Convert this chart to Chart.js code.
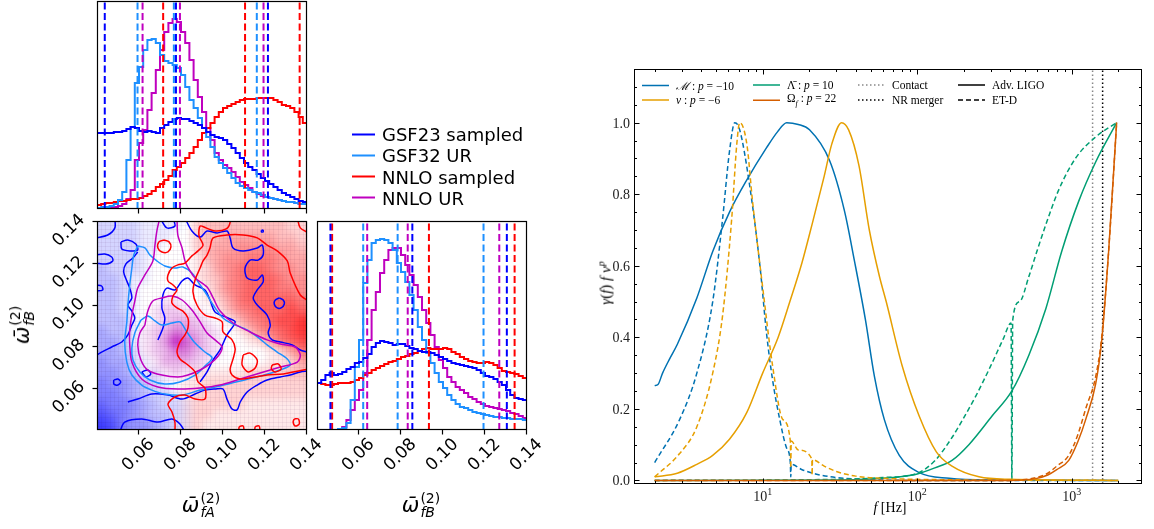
<!DOCTYPE html>
<html>
<head>
<meta charset="utf-8">
<title>corner plot and weight functions</title>
<script src="https://cdn.jsdelivr.net/npm/chart.js@4.4.1/dist/chart.umd.min.js"></script>
<style>
  body { margin: 0; background: #fff; }
  #page { position: relative; width: 1154px; height: 529px; overflow: hidden; }
  #page canvas { position: absolute; left: 0; top: 0; }
  .txt { position: absolute; white-space: nowrap; color: #000; }
  .sans { font-family: "DejaVu Sans", sans-serif; }
  .serif { font-family: "Liberation Serif", "DejaVu Serif", serif; }
  .omega { display: flex; align-items: center; font-size: 21px; transform: translate(-50%, -50%); }
  .omega.rot { transform: translate(-50%, -50%) rotate(-90deg); }
  .omega .w { font-style: italic; }
  .omega .ss { display: inline-flex; flex-direction: column; font-size: 14px; line-height: 14px; margin-left: 1px; }
  .omega .ss i { font-style: italic; }
  .leg { display: flex; align-items: center; transform: translateY(-50%); }
  .leg svg { margin-right: 7px; }
  .lsans { font-size: 18px; }
  .lserif { font-size: 11.5px; }
</style>
</head>
<body>
<div id="page">
  <canvas id="topHist" width="1154" height="529"></canvas>
  <canvas id="joint" width="1154" height="529"></canvas>
  <canvas id="sideHist" width="1154" height="529"></canvas>
  <canvas id="weights" width="1154" height="529"></canvas>

  <div class="txt sans omega" style="left:201px; top:505px;"><span class="w">ω̄</span><span class="ss"><span>(2)</span><i>fA</i></span></div>
  <div class="txt sans omega" style="left:421px; top:505px;"><span class="w">ω̄</span><span class="ss"><span>(2)</span><i>fB</i></span></div>
  <div class="txt sans omega rot" style="left:22px; top:325px;"><span class="w">ω̄</span><span class="ss"><span>(2)</span><i>fB</i></span></div>

  <div class="txt serif" style="left:605px; top:283px; font-size:15px; transform:translate(-50%,-50%) rotate(-90deg);"><i>γ</i>(<i>f</i>) <i>f v</i><sup style="font-size:10px"><i>p</i></sup></div>
  <div class="txt serif" style="left:890px; top:508px; font-size:14px; transform:translate(-50%,-50%);"><i>f</i> [Hz]</div>
</div>

<script>
// ---------------- corner plot (left) ----------------
const binStart = 0.04, binWidth = 0.002;   // 50 bins on [0.04, 0.14]

const seriesNames  = ['GSF23 sampled', 'GSF32 UR', 'NNLO sampled', 'NNLO UR'];
const seriesColors = ['#0000ff', '#1e90ff', '#ff0000', '#bf00bf'];

// marginal of omega_fA (arbitrary density units)
const histA_gsf23   = [76,76,76,76,77,77,78,80,82,81,78,77,78,77,76,81,84,87,90,91,90,90,88,86,84,81,77,74,72,71,69,65,61,56,51,46,42,39,35,31,28,25,22,19,16,14,12,10,8,7];
const histA_gsf32ur = [1,2,2,3,5,9,17,49,82,126,142,159,169,170,166,154,148,146,144,141,134,122,109,101,91,81,72,62,52,46,41,36,31,26,23,21,19,17,16,14,12,11,10,9,8,7,7,6,5,5];
const histA_nnlo    = [4,5,6,6,7,8,8,9,10,10,11,13,15,18,22,25,29,33,39,42,46,51,56,62,69,76,81,86,92,97,101,103,105,107,109,110,110,110,111,111,111,111,109,107,104,103,101,97,92,86];
const histA_nnloUR  = [0,0,0,1,2,3,5,10,19,49,66,79,99,116,139,159,177,186,190,187,177,166,149,129,112,97,81,69,56,49,44,41,37,32,27,24,21,17,15,13,12,11,10,9,8,7,7,6,5,5];

// marginal of omega_fB
const histB_gsf23   = [47,50,55,57,55,56,58,61,63,67,68,72,76,83,87,89,88,87,85,86,86,84,82,81,79,78,78,77,75,73,71,69,67,66,65,64,63,62,60,57,54,53,51,48,45,40,35,32,31,30];
const histB_gsf32ur = [0,0,0,0,0,1,2,7,30,63,90,147,170,187,190,191,190,187,180,167,158,148,135,120,103,90,77,67,57,48,42,35,30,26,23,22,20,18,17,16,15,14,13,13,12,12,11,11,11,10];
const histB_nnlo    = [47,46,45,45,46,47,47,47,48,50,52,55,57,60,62,64,66,68,69,71,73,74,76,77,79,81,82,81,81,81,82,81,78,76,73,71,69,68,67,67,68,67,65,62,59,58,57,56,54,52];
const histB_nnloUR  = [0,0,0,0,0,1,3,10,20,30,40,57,90,120,138,157,170,180,182,182,175,165,155,145,133,120,107,95,83,70,62,53,48,43,40,37,33,31,28,26,24,23,22,21,20,19,17,16,14,12];

// 5%, 50%, 95% quantiles (dashed lines)
const qA_gsf23 = [0.0437, 0.0776, 0.1214], qA_gsf32ur = [0.0593, 0.0766, 0.1161];
const qA_nnlo  = [0.0715, 0.1105, 0.1365], qA_nnloUR  = [0.0617, 0.0795, 0.1193];
const qB_gsf23 = [0.0464, 0.0854, 0.1304], qB_gsf32ur = [0.0620, 0.0784, 0.1193];
const qB_nnlo  = [0.0472, 0.0933, 0.1341], qB_nnloUR  = [0.0639, 0.0832, 0.1268];

const cornerTicks  = [0.06, 0.08, 0.10, 0.12, 0.14];
const cornerLabels = ['0.06', '0.08', '0.10', '0.12', '0.14'];

// 2D density grid: 20x20 cells of 0.005, rows from top (0.14) to bottom (0.04); 0..9
const cellLeft = 0.04, cellTop = 0.14, cellSize = 0.005;
const blueDens = [
  [2,2,2,2,1,1,1,1,0,0,0,0,0,0,0,0,0,0,0,0],
  [2,2,2,2,1,1,1,0,0,0,0,0,0,0,0,0,0,0,0,0],
  [2,2,2,2,1,1,0,0,0,0,0,0,0,0,0,0,0,0,0,0],
  [2,2,2,2,1,0,0,0,0,0,0,0,0,0,0,0,0,0,0,0],
  [3,2,2,2,1,0,0,0,0,0,0,0,0,0,0,0,0,0,0,0],
  [3,3,2,1,1,0,0,0,0,0,0,0,0,0,0,0,0,0,0,0],
  [3,3,2,1,0,0,0,0,0,0,0,0,0,0,0,0,0,0,0,0],
  [3,3,2,1,0,0,0,0,0,0,0,0,0,0,0,0,0,0,0,0],
  [3,3,2,1,0,0,0,0,0,0,0,0,0,0,0,0,0,0,0,0],
  [3,3,3,1,0,0,0,0,0,0,0,0,0,0,0,0,0,0,0,0],
  [4,3,3,1,0,0,0,0,0,0,0,0,0,0,0,0,0,0,0,0],
  [4,4,3,1,0,0,0,0,0,0,0,0,0,0,0,0,0,0,0,0],
  [4,4,3,2,0,0,0,0,0,0,0,0,0,0,0,0,0,0,0,0],
  [5,4,4,2,1,0,0,0,0,0,0,0,0,0,0,0,0,0,0,0],
  [5,5,4,3,1,1,0,0,0,0,0,0,0,0,0,0,0,0,0,0],
  [6,5,5,4,3,2,1,0,0,0,0,0,0,0,0,0,0,0,0,0],
  [6,6,5,4,3,2,2,1,0,0,0,0,0,0,0,0,0,0,0,0],
  [7,6,6,5,4,3,2,2,1,0,0,0,0,0,0,0,0,0,0,0],
  [8,7,6,5,4,3,3,2,1,0,0,0,0,0,0,0,0,0,0,0],
  [9,8,6,5,5,4,3,2,1,0,0,0,0,0,0,0,0,0,0,0]
];
const redDens = [
  [0,0,0,0,0,0,0,0,0,2,3,3,3,3,3,3,3,3,2,2],
  [0,0,0,0,0,0,0,0,0,2,3,3,4,4,4,4,4,3,3,2],
  [0,0,0,0,0,0,0,0,0,2,3,4,4,5,5,5,5,4,4,3],
  [0,0,0,0,0,0,0,0,0,1,3,4,5,5,6,6,6,5,4,4],
  [0,0,0,0,0,0,0,0,0,1,2,4,5,6,7,7,6,5,5,4],
  [0,0,0,0,0,0,0,0,0,1,2,3,5,6,7,7,7,6,5,5],
  [0,0,0,0,0,0,0,0,0,0,1,3,5,6,7,7,7,6,6,5],
  [0,0,0,0,0,0,0,0,0,0,1,2,4,6,7,7,7,7,7,6],
  [0,0,0,0,0,0,0,0,0,0,0,1,3,5,6,7,7,7,8,7],
  [0,0,0,0,0,0,0,0,0,0,0,0,1,3,5,6,7,8,8,9],
  [0,0,0,0,0,0,0,0,0,0,0,0,0,1,3,5,6,7,8,9],
  [0,0,0,0,0,0,0,0,0,0,0,0,0,0,1,2,4,6,7,8],
  [0,0,0,0,0,0,0,0,0,0,0,0,0,0,0,0,1,2,4,6],
  [0,0,0,0,0,0,0,0,0,0,0,0,0,0,0,0,1,1,2,4],
  [0,0,0,0,0,0,0,0,0,1,1,1,1,1,2,2,2,2,3,3],
  [0,0,0,0,0,0,0,0,1,1,2,2,2,2,2,2,2,2,2,2],
  [0,0,0,0,0,0,0,0,1,2,2,2,2,2,2,2,2,2,2,2],
  [0,0,0,0,0,0,0,0,1,2,2,2,2,2,1,1,1,1,1,1],
  [0,0,0,0,0,0,0,0,1,2,2,1,1,1,1,1,1,1,1,1],
  [0,0,0,0,0,0,0,0,1,2,1,1,1,1,1,1,1,1,1,1]
];
const purpleDens = [
  [0,0,0,0,0,0,0,0,0,0,0,0,0,0,0,0,0,0,0,0],
  [0,0,0,0,0,0,0,0,0,0,0,0,0,0,0,0,0,0,0,0],
  [0,0,0,0,0,0,0,0,0,0,0,0,0,0,0,0,0,0,0,0],
  [0,0,0,0,0,0,0,0,0,0,0,0,0,0,0,0,0,0,0,0],
  [0,0,0,0,0,0,0,0,0,0,0,0,0,0,0,0,0,0,0,0],
  [0,0,0,0,0,0,0,0,0,0,0,0,0,0,0,0,0,0,0,0],
  [0,0,0,0,0,0,0,0,0,0,0,0,0,0,0,0,0,0,0,0],
  [0,0,0,0,0,0,1,1,0,0,0,0,0,0,0,0,0,0,0,0],
  [0,0,0,0,0,1,2,2,1,1,0,0,0,0,0,0,0,0,0,0],
  [0,0,0,0,0,1,2,3,3,2,1,0,0,0,0,0,0,0,0,0],
  [0,0,0,0,1,2,3,5,4,3,2,1,0,0,0,0,0,0,0,0],
  [0,0,0,0,1,2,4,8,6,4,2,1,0,0,0,0,0,0,0,0],
  [0,0,0,0,1,2,3,5,5,3,2,1,0,0,0,0,0,0,0,0],
  [0,0,0,0,0,1,3,3,3,2,1,0,0,0,0,0,0,0,0,0],
  [0,0,0,0,0,1,1,2,1,1,0,0,0,0,0,0,0,0,0,0],
  [0,0,0,0,0,0,0,0,0,0,0,0,0,0,0,0,0,0,0,0],
  [0,0,0,0,0,0,0,0,0,0,0,0,0,0,0,0,0,0,0,0],
  [0,0,0,0,0,0,0,0,0,0,0,0,0,0,0,0,0,0,0,0],
  [0,0,0,0,0,0,0,0,0,0,0,0,0,0,0,0,0,0,0,0],
  [0,0,0,0,0,0,0,0,0,0,0,0,0,0,0,0,0,0,0,0]
];

// contour lines [omega_fA, omega_fB]
const gsf23C1 = [[0.0399,0.0759],[0.0422,0.0773],[0.047,0.0797],[0.0518,0.0821],[0.0547,0.0855],[0.0566,0.0902],[0.058,0.0936],[0.0566,0.0969],[0.0547,0.0998],[0.0566,0.1032],[0.0556,0.1079],[0.0542,0.1113],[0.0527,0.1156],[0.0537,0.1194],[0.0571,0.1223],[0.0594,0.1252]];
const gsf23C2 = [[0.0819,0.1414],[0.0852,0.1352],[0.0891,0.1323],[0.0924,0.1352],[0.0972,0.1343],[0.1019,0.1352],[0.1034,0.1319],[0.1048,0.1271],[0.1096,0.1257],[0.1163,0.1271],[0.1187,0.1285],[0.1191,0.1237],[0.1167,0.1213],[0.1129,0.1213],[0.1105,0.1175],[0.1115,0.1127],[0.1163,0.1118],[0.1187,0.1142],[0.1191,0.1108],[0.1163,0.107],[0.1144,0.1032],[0.1163,0.0998],[0.121,0.095],[0.1225,0.0902],[0.1215,0.0864],[0.1234,0.0831],[0.1273,0.0821],[0.133,0.0807],[0.1368,0.0783],[0.1402,0.0773]];
const gsf23C3 = [[0.069,0.0831],[0.0714,0.0888],[0.0723,0.0936],[0.0709,0.0984],[0.0714,0.1046],[0.0733,0.1079],[0.0771,0.107],[0.0805,0.1113],[0.0833,0.1127],[0.0867,0.1094],[0.0914,0.107],[0.0938,0.1022],[0.0962,0.0965],[0.1024,0.0936],[0.1058,0.0917],[0.1019,0.0855],[0.0986,0.0783],[0.0953,0.0735],[0.0924,0.0678],[0.0891,0.063]];
const gsf23C4 = [[0.0547,0.0534],[0.0594,0.0548],[0.0661,0.0572],[0.0738,0.0567],[0.0805,0.0548],[0.0867,0.0572],[0.0914,0.0591],[0.0962,0.0596],[0.1,0.0596],[0.1019,0.0548],[0.1043,0.05],[0.1067,0.0496],[0.1082,0.0534],[0.1115,0.0582],[0.1163,0.0615],[0.121,0.0639],[0.1273,0.0654],[0.132,0.0663],[0.1368,0.0678],[0.1402,0.0682]];
const gsf23C5 = [[0.0508,0.039],[0.0532,0.0438],[0.0613,0.0453],[0.069,0.0438],[0.0757,0.0453],[0.0795,0.0429],[0.0819,0.039]];
const gsf23C6 = [[0.0485,0.1414],[0.0485,0.1367],[0.0451,0.1333],[0.0395,0.1319]];
const gsf23I1 = [[0.0395,0.1237],[0.0437,0.1242],[0.047,0.1228],[0.0475,0.1209],[0.0442,0.1194],[0.0395,0.1199]];
const gsf23I2 = [[0.0514,0.13],[0.0547,0.1309],[0.0585,0.129],[0.0594,0.1261],[0.0556,0.1257],[0.0518,0.1266],[0.0514,0.13]];
const gsf23I3 = [[0.0395,0.1094],[0.0422,0.1089],[0.0427,0.107],[0.0395,0.1065]];
const gsf23I4 = [[0.048,0.0639],[0.0499,0.0644],[0.0513,0.063],[0.0499,0.0615],[0.048,0.062],[0.048,0.0639]];
const gsf23I5 = [[0.0613,0.0678],[0.0642,0.0687],[0.0656,0.0668],[0.0633,0.0654],[0.0613,0.0678]];
const gsf23I6 = [[0.1268,0.1032],[0.1287,0.1022],[0.1292,0.1003],[0.1277,0.0984],[0.1258,0.0984],[0.1244,0.1003],[0.1249,0.1022],[0.1268,0.1032]];
const gsf23I7 = [[0.0709,0.1414],[0.0709,0.14],[0.0733,0.1367],[0.0771,0.1376],[0.0762,0.1414]];
const gsf23I8 = [[0.1183,0.1356],[0.1191,0.1356],[0.1191,0.1348],[0.1183,0.1348],[0.1183,0.1356]];

const gsf32Outer = [[0.0594,0.128],[0.0628,0.1271],[0.0652,0.1237],[0.0685,0.1209],[0.0723,0.1185],[0.0771,0.1175],[0.0809,0.118],[0.0852,0.1151],[0.0891,0.1094],[0.0924,0.1046],[0.0953,0.0998],[0.1,0.0936],[0.1048,0.0907],[0.1115,0.0879],[0.1177,0.0835],[0.121,0.0807],[0.1258,0.0773],[0.1306,0.074],[0.132,0.0711],[0.1273,0.0687],[0.1177,0.0658],[0.1082,0.0634],[0.0986,0.0611],[0.0891,0.0591],[0.0805,0.0567],[0.0723,0.0572],[0.0661,0.0591],[0.0613,0.0615],[0.0566,0.0663],[0.0542,0.0725],[0.0532,0.0821],[0.0542,0.0917],[0.0547,0.0998],[0.0556,0.1094],[0.0566,0.1175],[0.0575,0.1237],[0.0594,0.128]];
const gsf32Inner = [[0.0609,0.0926],[0.0642,0.0945],[0.0676,0.0922],[0.0709,0.0902],[0.0757,0.0912],[0.0795,0.0917],[0.0828,0.0869],[0.0867,0.0816],[0.0914,0.0773],[0.0948,0.0745],[0.0914,0.0706],[0.0867,0.0663],[0.0795,0.063],[0.0723,0.062],[0.0652,0.0639],[0.0604,0.0678],[0.0571,0.0735],[0.0566,0.0792],[0.058,0.0864],[0.0609,0.0926]];

const nnloUROuter = [[0.0699,0.1414],[0.0685,0.1352],[0.0676,0.1285],[0.0666,0.1209],[0.0628,0.1142],[0.0594,0.1079],[0.058,0.1017],[0.0566,0.095],[0.0556,0.0879],[0.0556,0.0807],[0.0566,0.0725],[0.0613,0.0644],[0.069,0.0606],[0.0785,0.0596],[0.0891,0.0601],[0.0986,0.0615],[0.1082,0.0644],[0.1177,0.0673],[0.1273,0.0701],[0.1354,0.0725],[0.1368,0.0759],[0.1344,0.0797],[0.1273,0.0811],[0.121,0.0831],[0.1129,0.0869],[0.1048,0.0912],[0.0986,0.0969],[0.0953,0.1032],[0.0924,0.1084],[0.0867,0.1127],[0.0843,0.1161],[0.0819,0.1209],[0.0805,0.1271],[0.0785,0.1333],[0.0781,0.1414]];
const nnloURInner = [[0.0628,0.0902],[0.0642,0.0969],[0.0666,0.1017],[0.0709,0.1032],[0.0757,0.1041],[0.0805,0.1022],[0.0852,0.0974],[0.0891,0.0917],[0.0924,0.0864],[0.0962,0.0831],[0.0996,0.0797],[0.0977,0.0754],[0.0938,0.0716],[0.0891,0.0687],[0.0833,0.0663],[0.0785,0.0654],[0.0709,0.0663],[0.0642,0.0687],[0.0609,0.0735],[0.0594,0.0807],[0.0604,0.0864],[0.0628,0.0902]];

const nnloC1 = [[0.1024,0.1414],[0.1034,0.1395],[0.1015,0.1362],[0.0962,0.1352],[0.0919,0.1367],[0.0891,0.1376],[0.0886,0.1328],[0.0905,0.1285],[0.0881,0.1257],[0.0852,0.1233],[0.0819,0.1199],[0.0785,0.119],[0.0757,0.1175],[0.0738,0.1142],[0.0738,0.1113],[0.0762,0.1094],[0.0781,0.107],[0.0762,0.1041],[0.0757,0.1008],[0.0781,0.0984],[0.0809,0.0969],[0.0833,0.0936],[0.0833,0.0888],[0.0819,0.0855],[0.0795,0.0821],[0.0781,0.0773],[0.0795,0.074],[0.0833,0.0711],[0.0867,0.0678],[0.0881,0.063],[0.0914,0.0601],[0.0914,0.0548],[0.0867,0.0548],[0.0819,0.0567],[0.0771,0.0558],[0.0738,0.0524],[0.0757,0.0486],[0.0771,0.0438],[0.0771,0.039]];
const nnloC2 = [[0.1408,0.1017],[0.1368,0.1046],[0.132,0.1151],[0.1306,0.1209],[0.1258,0.1257],[0.121,0.1285],[0.1163,0.1319],[0.1096,0.1333],[0.1019,0.1333],[0.0953,0.1319],[0.0938,0.1271],[0.0924,0.1237],[0.0905,0.1209],[0.0891,0.1175],[0.0867,0.1118],[0.0857,0.1061],[0.0876,0.0998],[0.0914,0.095],[0.0962,0.0936],[0.0996,0.0917],[0.1,0.0869],[0.1043,0.0831],[0.1058,0.0788],[0.1048,0.074],[0.1034,0.0692],[0.1043,0.0663],[0.1082,0.0644],[0.1153,0.0654],[0.121,0.0663],[0.1287,0.0668],[0.1334,0.0678],[0.1408,0.0692]];
const nnloL1 = [[0.0719,0.1309],[0.0743,0.13],[0.0752,0.1276],[0.0738,0.1252],[0.0709,0.1252],[0.069,0.1271],[0.0695,0.13],[0.0719,0.1309]];
const nnloL2 = [[0.1096,0.0759],[0.1129,0.0768],[0.1163,0.0735],[0.1153,0.0697],[0.112,0.0678],[0.1091,0.0711],[0.1096,0.0759]];
const nnloL3 = [[0.1234,0.0711],[0.1263,0.0716],[0.1277,0.0692],[0.1249,0.0678],[0.123,0.0692],[0.1234,0.0711]];
const nnloL4 = [[0.1339,0.0453],[0.1359,0.0453],[0.1363,0.0429],[0.1344,0.0419],[0.1334,0.0438],[0.1339,0.0453]];
const nnloL5 = [[0.1077,0.039],[0.1077,0.0414],[0.1096,0.0419],[0.1101,0.039]];
const nnloL6 = [[0.1153,0.039],[0.1153,0.0414],[0.1172,0.0419],[0.1177,0.039]];
const nnloL7 = [[0.1354,0.1414],[0.1368,0.1367],[0.1408,0.1343]];

// ---------------- weight functions (right) ----------------
const mSolidF  = [2.0,2.1,2.25,2.5,2.8,3.75,4.75,6.1,7.9,10.6,12.5,14.3,17,20.1,27.1,33.8,39.2,46.2,52.9,61.3,76.6,103,161,300,2000];
const mSolidY  = [0.265,0.268,0.30,0.34,0.38,0.51,0.64,0.75,0.84,0.93,0.975,1.0,0.995,0.98,0.894,0.754,0.615,0.45,0.29,0.17,0.07,0.022,0.006,0.001,0.0];
const mDashF   = [2.0,2.9,3.75,4.75,5.5,6.1,6.6,7.1,8.2,9.6,10.6,11.6,12.9,14.3,15.1,15.2,15.3,18,22,30,50,100,2000];
const mDashY   = [0.05,0.17,0.30,0.50,0.73,0.92,1.0,0.98,0.83,0.60,0.41,0.28,0.17,0.09,0.05,0.01,0.045,0.03,0.018,0.008,0.002,0.0,0.0];
const nuSolidF = [2.0,2.8,3.75,4.75,6.1,7.9,10,12.6,15,18,21,25,28,32.4,36,42,49,57,63,80,103,133,168,251,400,2000];
const nuSolidY = [0.01,0.02,0.045,0.07,0.115,0.19,0.30,0.40,0.50,0.61,0.72,0.85,0.94,1.0,0.98,0.88,0.70,0.57,0.50,0.32,0.18,0.08,0.04,0.01,0.003,0.0];
const nuDashF  = [2.0,2.9,3.75,4.75,5.5,6.3,6.8,7.1,7.9,8.6,10,11.6,13.5,15.1,15.2,15.3,17,20.8,20.9,21,25,30,40,60,100,2000];
const nuDashY  = [0.01,0.075,0.15,0.30,0.46,0.73,0.94,1.0,0.94,0.78,0.54,0.32,0.17,0.11,0.035,0.11,0.085,0.06,0.015,0.058,0.04,0.025,0.012,0.006,0.003,0.0];
const lamSolidF = [2,30,50,80,100,130,168,216,305,410,528,680,861,1109,1429,1953];
const lamSolidY = [0,0.001,0.004,0.011,0.018,0.035,0.056,0.10,0.18,0.25,0.35,0.48,0.64,0.78,0.89,1.0];
const lamDashF  = [2,30,60,100,130,168,200,239,299,360,405,410,415,460,528,600,680,820,1057,1429,1953];
const lamDashY  = [0,0.003,0.008,0.02,0.055,0.12,0.175,0.235,0.32,0.395,0.44,0.0,0.447,0.50,0.57,0.645,0.715,0.81,0.90,0.96,1.0];
const omF       = [2,400,586,700,800,957,1100,1231,1429,1563,1733,1953];
const omSolidY  = [0,0,0.005,0.015,0.03,0.056,0.11,0.17,0.27,0.39,0.64,1.0];
const omDashY   = [0,0,0.008,0.02,0.04,0.07,0.13,0.20,0.29,0.40,0.64,1.0];
const contactF = 1365, mergerF = 1585;

const colM = '#0072B2', colNu = '#E69F00', colLam = '#009E73', colOm = '#D55E00';
const wYTicks  = [0, 0.2, 0.4, 0.6, 0.8, 1.0];
const wYLabels = ['0.0', '0.2', '0.4', '0.6', '0.8', '1.0'];
const wXTicks  = [10, 100, 1000];
const wXExp    = ['1', '2', '3'];

// ---------------- helpers ----------------
Chart.defaults.font.family = '"DejaVu Sans", sans-serif';

function stepPoints(vals) {
  const pts = vals.map((v, i) => ({ x: binStart + i * binWidth, y: v }));
  pts.push({ x: binStart + vals.length * binWidth, y: vals[vals.length - 1] });
  return pts;
}
const toXY = arr => arr.map(p => ({ x: p[0], y: p[1] }));
const zip = (fs, ys) => fs.map((f, i) => ({ x: f, y: ys[i] }));

function histSets(hists, quants, top) {
  const sets = [];
  quants.forEach((q, s) => q.forEach(v => sets.push({
    data: [{ x: v, y: 0 }, { x: v, y: top }], showLine: true,
    borderColor: seriesColors[s], borderWidth: 2, borderDash: [7, 3.5], order: 0
  })));
  hists.forEach((h, s) => sets.push({
    data: stepPoints(h), showLine: true, stepped: 'before',
    borderColor: seriesColors[s], borderWidth: 2, order: 1 + s
  }));
  return sets;
}

function cellRGB(b, r, p) {
  const tints = [[b / 10, [40, 40, 255]], [r / 10, [255, 35, 35]], [p / 10, [185, 0, 185]]];
  let rgb = [255, 255, 255];
  tints.forEach(([w, t]) => { rgb = rgb.map((v, k) => v * (1 - w * (1 - t[k] / 255))); });
  return rgb.map(Math.round);
}

// density cells are written into a small image, one pixel per cell, then placed on the axes
const heatmapPlugin = {
  id: 'heatmap',
  beforeDatasetsDraw(chart) {
    const { ctx, scales: { x, y } } = chart;
    const nR = blueDens.length, nC = blueDens[0].length;
    const off = document.createElement('canvas');
    off.width = nC; off.height = nR;
    const octx = off.getContext('2d');
    const img = octx.createImageData(nC, nR);
    blueDens.forEach((row, r) => row.forEach((b, c) => {
      const rgb = cellRGB(b, redDens[r][c], purpleDens[r][c]);
      const k = (r * nC + c) * 4;
      img.data[k] = rgb[0]; img.data[k + 1] = rgb[1]; img.data[k + 2] = rgb[2]; img.data[k + 3] = 255;
    }));
    octx.putImageData(img, 0, 0);
    const x0 = x.getPixelForValue(cellLeft), x1 = x.getPixelForValue(cellLeft + nC * cellSize);
    const y0 = y.getPixelForValue(cellTop), y1 = y.getPixelForValue(cellTop - nR * cellSize);
    ctx.save();
    ctx.imageSmoothingEnabled = true;
    ctx.imageSmoothingQuality = 'high';
    ctx.drawImage(off, x0, y0, x1 - x0, y1 - y0);
    // faint mesh like the fine histogram bins of the original
    ctx.globalCompositeOperation = 'multiply';
    ctx.strokeStyle = 'rgba(150,110,150,0.10)';
    ctx.lineWidth = 1;
    ctx.beginPath();
    for (let v = cellLeft; v <= cellLeft + nC * cellSize + 1e-9; v += binWidth) {
      const px = Math.round(x.getPixelForValue(v)) + 0.5;
      ctx.moveTo(px, y0); ctx.lineTo(px, y1);
      const py = Math.round(y.getPixelForValue(v)) + 0.5;
      ctx.moveTo(x0, py); ctx.lineTo(x1, py);
    }
    ctx.stroke();
    ctx.restore();
  }
};

function cornerAxes(id, cfg) {
  return {
    id: id,
    afterDatasetsDraw(chart) {
      const { ctx, chartArea: a, scales: { x, y } } = chart;
      ctx.save();
      ctx.strokeStyle = '#000';
      ctx.lineWidth = 1.2;
      ctx.strokeRect(a.left + 0.5, a.top + 0.5, a.right - a.left - 1, a.bottom - a.top - 1);
      ctx.fillStyle = '#000';
      ctx.font = '17px "DejaVu Sans"';
      ctx.textAlign = 'center';
      ctx.textBaseline = 'middle';
      cornerTicks.forEach((v, i) => {
        const px = Math.round(x.getPixelForValue(v)) - 0.5;
        ctx.beginPath(); ctx.moveTo(px, a.bottom); ctx.lineTo(px, a.bottom + 4.5); ctx.stroke();
        if (cfg.xLabels) {
          ctx.save(); ctx.translate(px, a.bottom + 25); ctx.rotate(-Math.PI / 4);
          ctx.fillText(cornerLabels[i], 0, 0); ctx.restore();
        }
        if (cfg.yTicks) {
          const py = Math.round(y.getPixelForValue(v)) + 0.5;
          ctx.beginPath(); ctx.moveTo(a.left, py); ctx.lineTo(a.left - 4.5, py); ctx.stroke();
          ctx.save(); ctx.translate(a.left - 28, py + 9); ctx.rotate(-Math.PI / 4);
          ctx.fillText(cornerLabels[i], 0, 0); ctx.restore();
        }
      });
      ctx.restore();
    }
  };
}

function cornerChart(canvasId, pad, yMin, yMax, datasets, plugins) {
  return new Chart(document.getElementById(canvasId), {
    type: 'scatter',
    data: { datasets: datasets },
    options: {
      responsive: false, animation: false, events: [],
      layout: { padding: pad },
      elements: { point: { radius: 0 } },
      plugins: { legend: { display: false }, tooltip: { enabled: false } },
      scales: {
        x: { type: 'linear', display: false, min: 0.04, max: 0.14 },
        y: { type: 'linear', display: false, min: yMin, max: yMax }
      }
    },
    plugins: plugins
  });
}

// ---------------- left charts ----------------
cornerChart('topHist', { left: 97, top: 1, right: 847, bottom: 320 }, 0, 208,
  histSets([histA_gsf23, histA_gsf32ur, histA_nnlo, histA_nnloUR], [qA_gsf23, qA_gsf32ur, qA_nnlo, qA_nnloUR], 208),
  [cornerAxes('axTop', {})]);

cornerChart('sideHist', { left: 317, top: 221, right: 627, bottom: 99 }, 0, 209,
  histSets([histB_gsf23, histB_gsf32ur, histB_nnlo, histB_nnloUR], [qB_gsf23, qB_gsf32ur, qB_nnlo, qB_nnloUR], 209),
  [cornerAxes('axSide', { xLabels: true })]);

const contourGroups = [
  [[gsf23C1, gsf23C2, gsf23C3, gsf23C4, gsf23C5, gsf23C6, gsf23I1, gsf23I2, gsf23I3, gsf23I4, gsf23I5, gsf23I6, gsf23I7, gsf23I8], 3],
  [[gsf32Outer, gsf32Inner], 2],
  [[nnloC1, nnloC2, nnloL1, nnloL2, nnloL3, nnloL4, nnloL5, nnloL6, nnloL7], 0],
  [[nnloUROuter, nnloURInner], 1]
];
const jointSets = [];
contourGroups.forEach(([lines, order], s) => lines.forEach(l => jointSets.push({
  data: toXY(l), showLine: true, tension: 0.3,
  borderColor: seriesColors[s], borderWidth: 1.5, order: order
})));
cornerChart('joint', { left: 97, top: 221, right: 847, bottom: 99 }, 0.04, 0.14, jointSets,
  [heatmapPlugin, cornerAxes('axJoint', { xLabels: true, yTicks: true })]);

// left legend
seriesNames.forEach((name, i) => {
  const d = document.createElement('div');
  d.className = 'txt sans leg lsans';
  d.style.left = '352px';
  d.style.top = (134 + i * 21.3) + 'px';
  d.innerHTML = '<svg width="23" height="4"><line x1="0" y1="2" x2="23" y2="2" stroke="' + seriesColors[i] +
    '" stroke-width="2"/></svg><span>' + name + '</span>';
  document.getElementById('page').appendChild(d);
});

// ---------------- right chart ----------------
const weightAxes = {
  id: 'weightAxes',
  afterDatasetsDraw(chart) {
    const { ctx, chartArea: a, scales: { x, y } } = chart;
    ctx.save();
    ctx.strokeStyle = '#000';
    ctx.lineWidth = 1;
    ctx.strokeRect(a.left + 0.5, a.top + 0.5, a.right - a.left - 1, a.bottom - a.top - 1);
    const xt = (v, len) => {
      const px = Math.round(x.getPixelForValue(v)) + 0.5;
      ctx.beginPath();
      ctx.moveTo(px, a.bottom); ctx.lineTo(px, a.bottom - len);
      ctx.moveTo(px, a.top); ctx.lineTo(px, a.top + len);
      ctx.stroke();
    };
    const yt = (v, len) => {
      const py = Math.round(y.getPixelForValue(v)) + 0.5;
      ctx.beginPath();
      ctx.moveTo(a.left, py); ctx.lineTo(a.left + len, py);
      ctx.moveTo(a.right, py); ctx.lineTo(a.right - len, py);
      ctx.stroke();
    };
    for (let d = 1; d <= 1000; d *= 10) {
      for (let k = 2; k <= 9; k++) if (k * d > x.min && k * d < x.max) xt(k * d, 3);
    }
    wXTicks.forEach(v => xt(v, 5.5));
    for (let i = 1; i <= 22; i++) if (i % 4 !== 0) yt(i * 0.05, 3);
    wYTicks.forEach(v => yt(v, 5.5));

    ctx.fillStyle = '#222';
    ctx.textBaseline = 'alphabetic';
    ctx.font = '14px "Liberation Serif"';
    ctx.textAlign = 'right';
    wYTicks.forEach((v, i) => ctx.fillText(wYLabels[i], a.left - 4, y.getPixelForValue(v) + 5));
    ctx.textAlign = 'left';
    wXTicks.forEach((v, i) => {
      const px = x.getPixelForValue(v);
      ctx.font = '14px "Liberation Serif"';
      const w1 = ctx.measureText('10').width;
      ctx.font = '10px "Liberation Serif"';
      const w2 = ctx.measureText(wXExp[i]).width;
      const x0 = px - (w1 + w2) / 2;
      ctx.font = '14px "Liberation Serif"';
      ctx.fillText('10', x0, a.bottom + 17);
      ctx.font = '10px "Liberation Serif"';
      ctx.fillText(wXExp[i], x0 + w1, a.bottom + 11);
    });
    ctx.restore();
  }
};

const lineSet = (pts, color, dashed, order) => ({
  data: pts, showLine: true, borderColor: color, borderWidth: 1.5,
  borderDash: dashed ? [5, 3] : [], cubicInterpolationMode: 'monotone', order: order
});
new Chart(document.getElementById('weights'), {
  type: 'scatter',
  data: {
    datasets: [
      lineSet(zip(omF, omSolidY), colOm, false, 0),
      lineSet(zip(omF, omDashY), colOm, true, 1),
      lineSet(zip(nuSolidF, nuSolidY), colNu, false, 2),
      lineSet(zip(nuDashF, nuDashY), colNu, true, 3),
      lineSet(zip(lamSolidF, lamSolidY), colLam, false, 4),
      lineSet(zip(lamDashF, lamDashY), colLam, true, 5),
      lineSet(zip(mSolidF, mSolidY), colM, false, 6),
      lineSet(zip(mDashF, mDashY), colM, true, 7),
      { data: [{ x: contactF, y: -0.01 }, { x: contactF, y: 1.15 }], showLine: true,
        borderColor: '#888', borderWidth: 1.5, borderDash: [1.5, 2.5], order: 8 },
      { data: [{ x: mergerF, y: -0.01 }, { x: mergerF, y: 1.15 }], showLine: true,
        borderColor: '#000', borderWidth: 1.5, borderDash: [1.5, 2.5], order: 9 }
    ]
  },
  options: {
    responsive: false, animation: false, events: [],
    layout: { padding: { left: 634, top: 69, right: 12, bottom: 45 } },
    elements: { point: { radius: 0 } },
    plugins: { legend: { display: false }, tooltip: { enabled: false } },
    scales: {
      x: { type: 'logarithmic', display: false, min: 1.47, max: 2850 },
      y: { type: 'linear', display: false, min: -0.01, max: 1.15 }
    }
  },
  plugins: [weightAxes]
});

// right legend (4 columns x 2 rows)
const wLegCols = [642, 753, 858, 958];
const wLegRows = [85, 100];
const wLegend = [
  [0, 0, colM, '', '<i>ℳ</i> : <i>p</i> = −10'],
  [0, 1, colNu, '', '<i>ν</i> : <i>p</i> = −6'],
  [1, 0, colLam, '', 'Λ̄ : <i>p</i> = 10'],
  [1, 1, colOm, '', 'Ω<sub style="font-size:8px"><i>f</i></sub> : <i>p</i> = 22'],
  [2, 0, '#888', '1.5 2.5', 'Contact'],
  [2, 1, '#000', '1.5 2.5', 'NR merger'],
  [3, 0, '#000', '', 'Adv. LIGO'],
  [3, 1, '#000', '5 3', 'ET-D']
];
wLegend.forEach(([c, r, color, dash, html]) => {
  const d = document.createElement('div');
  d.className = 'txt serif leg lserif';
  d.style.left = wLegCols[c] + 'px';
  d.style.top = wLegRows[r] + 'px';
  d.innerHTML = '<svg width="27" height="4"><line x1="0" y1="2" x2="27" y2="2" stroke="' + color +
    '" stroke-width="1.5"' + (dash ? ' stroke-dasharray="' + dash + '"' : '') + '/></svg><span>' + html + '</span>';
  document.getElementById('page').appendChild(d);
});
</script>
</body>
</html>
